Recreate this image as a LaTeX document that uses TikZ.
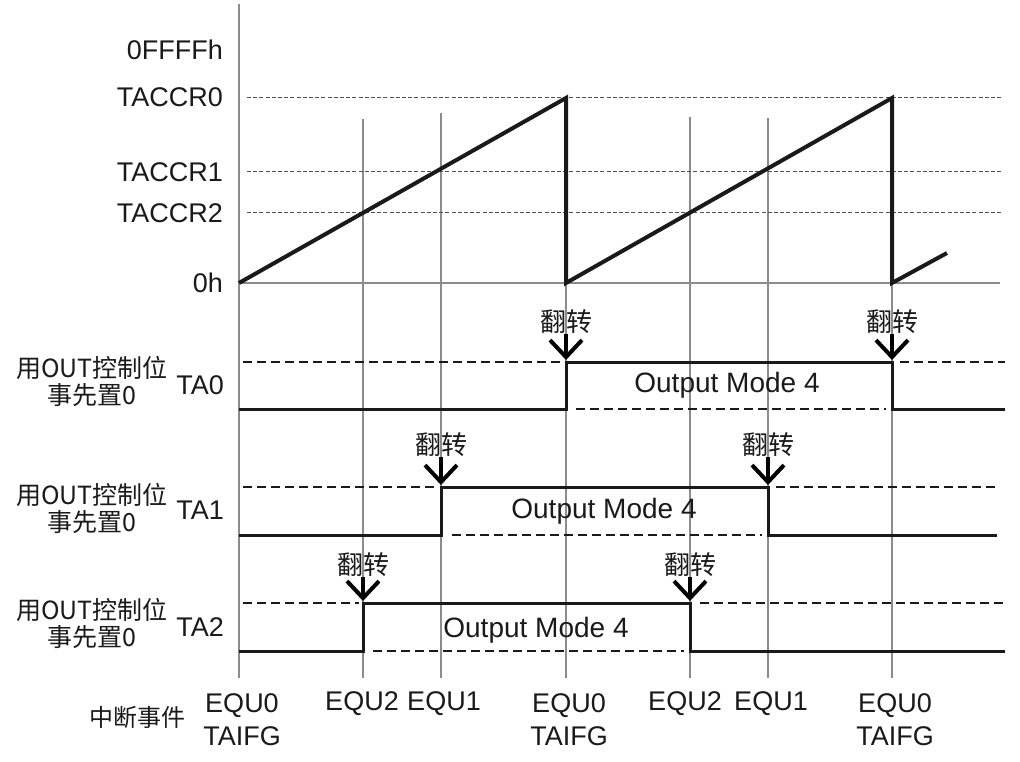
\documentclass[tikz,border=0pt]{standalone}
\usepackage{fontspec}
\setmainfont{Liberation Sans}
\newfontfamily\cjk{Noto Sans CJK SC}
\usetikzlibrary{arrows.meta}
\definecolor{axisgray}{HTML}{8C8C8C}
\definecolor{ink}{HTML}{1A1A1A}
\definecolor{refgray}{HTML}{505050}
\begin{document}
\begin{tikzpicture}[x=1pt,y=-1pt,
  axisline/.style={draw=axisgray,line width=1.7pt},
  refline/.style={draw=refgray,line width=1pt,dash pattern=on 4pt off 2.2pt},
  saw/.style={draw=ink,line width=4pt,line join=miter},
  sig/.style={draw=ink,line width=3pt},
  sigdash/.style={draw=ink,line width=2.6pt,dash pattern=on 9pt off 5pt},
  lbl/.style={font=\fontsize{27}{31}\selectfont,text=ink,inner sep=0pt},
  omlbl/.style={font=\fontsize{28}{31}\selectfont,text=ink,inner sep=0pt},
  cjklbl/.style={font=\cjk\fontsize{25}{27}\selectfont,text=ink,inner sep=0pt,align=center},
  fliplbl/.style={font=\cjk\fontsize{26}{28}\selectfont,text=ink,inner sep=0pt},
  fliparrow/.style={draw=black,line width=3.2pt,-{Straight Barb[length=17pt,width=32pt,line width=4pt]}},
]
\useasboundingbox[fill=white] (0,0) rectangle (1020,762);

% axis and baseline
\coordinate (ax0) at (239,4);
\coordinate (ax1) at (239,678);
\coordinate (b0) at (239,283);
\coordinate (b1) at (1000,283);
\draw[axisline] (ax0) -- (ax1);
\draw[axisline] (b0) -- (b1);

% event verticals
\foreach \n/\x/\t in {e2a/363/119,e1a/441/113,e0a/566/97,e2b/690/117,e1b/768/118,e0b/892/97}{
  \coordinate (\n-t) at (\x,\t);
  \coordinate (\n-b) at (\x,678);
  \draw[axisline] (\n-t) -- (\n-b);
}

% reference levels
\foreach \n/\y in {r0/98,r1/172,r2/213}{
  \coordinate (\n-l) at (247,\y);
  \coordinate (\n-r) at (1002,\y);
  \draw[refline] (\n-l) -- (\n-r);
}

% axis labels
\node[lbl,anchor=east] (l0f) at (223,50) {0FFFFh};
\node[lbl,anchor=east] (lc0) at (223,97) {TACCR0};
\node[lbl,anchor=east] (lc1) at (223,172) {TACCR1};
\node[lbl,anchor=east] (lc2) at (223,213) {TACCR2};
\node[lbl,anchor=east] (l0h) at (223,283) {0h};

% sawtooth
\coordinate (s0) at (239,283);
\coordinate (s1) at (566,98);
\coordinate (s2) at (566,283);
\coordinate (s3) at (892,98);
\coordinate (s4) at (892,283);
\coordinate (s5) at (947,253);
\draw[saw] (s0) -- (s1) -- (s2) -- (s3) -- (s4) -- (s5);

% ---------- TA0 ----------
\draw[sig] (239,409) -- (566,409) -- (566,362) -- (892,362) -- (892,409) -- (1005,409);
\draw[sigdash] (243,362) -- (562,362);
\draw[sigdash] (576,409) -- (886,409);
\draw[sigdash] (900,362) -- (1005,362);
\node[cjklbl] (n0) at (92,381) {用OUT控制位\\事先置0};
\node[lbl,anchor=east] (ta0) at (224,385) {TA0};
\node[omlbl] (om0) at (727,385) {Output Mode 4};
\node[fliplbl] (f0a) at (566,322) {翻转};
\node[fliplbl] (f0b) at (892,322) {翻转};
\coordinate (t0a) at (566,360);
\coordinate (t0b) at (892,360);
\draw[fliparrow] (f0a.south) -- (t0a);
\draw[fliparrow] (f0b.south) -- (t0b);

% ---------- TA1 ----------
\draw[sig] (239,535) -- (441,535) -- (441,487) -- (768,487) -- (768,535) -- (997,535);
\draw[sigdash] (243,487) -- (437,487);
\draw[sigdash] (452,535) -- (762,535);
\draw[sigdash] (776,487) -- (997,487);
\node[cjklbl] (n1) at (92,508) {用OUT控制位\\事先置0};
\node[lbl,anchor=east] (ta1) at (224,510) {TA1};
\node[omlbl] (om1) at (604,511) {Output Mode 4};
\node[fliplbl] (f1a) at (441,445) {翻转};
\node[fliplbl] (f1b) at (768,445) {翻转};
\coordinate (t1a) at (441,485);
\coordinate (t1b) at (768,485);
\draw[fliparrow] (f1a.south) -- (t1a);
\draw[fliparrow] (f1b.south) -- (t1b);

% ---------- TA2 ----------
\draw[sig] (239,651) -- (363,651) -- (363,603) -- (690,603) -- (690,651) -- (1005,651);
\draw[sigdash] (243,603) -- (359,603);
\draw[sigdash] (373,651) -- (684,651);
\draw[sigdash] (700,603) -- (1005,603);
\node[cjklbl] (n2) at (92,623) {用OUT控制位\\事先置0};
\node[lbl,anchor=east] (ta2) at (224,627) {TA2};
\node[omlbl] (om2) at (536,630) {Output Mode 4};
\node[fliplbl] (f2a) at (363,565) {翻转};
\node[fliplbl] (f2b) at (690,565) {翻转};
\coordinate (t2a) at (363,601);
\coordinate (t2b) at (690,601);
\draw[fliparrow] (f2a.south) -- (t2a);
\draw[fliparrow] (f2b.south) -- (t2b);

% ---------- interrupt events ----------
\node[font=\cjk\fontsize{24}{28}\selectfont,text=ink,inner sep=0pt] (ev) at (137,717) {中断事件};
\node[lbl,align=center,font=\fontsize{27}{33}\selectfont] (q0a) at (242,720) {EQU0\\TAIFG};
\node[lbl] (q2a) at (362,704) {EQU2};
\node[lbl] (q1a) at (444,704) {EQU1};
\node[lbl,align=center,font=\fontsize{27}{33}\selectfont] (q0b) at (569,720) {EQU0\\TAIFG};
\node[lbl] (q2b) at (685,704) {EQU2};
\node[lbl] (q1b) at (771,704) {EQU1};
\node[lbl,align=center,font=\fontsize{27}{33}\selectfont] (q0c) at (895,720) {EQU0\\TAIFG};
\end{tikzpicture}
\end{document}
